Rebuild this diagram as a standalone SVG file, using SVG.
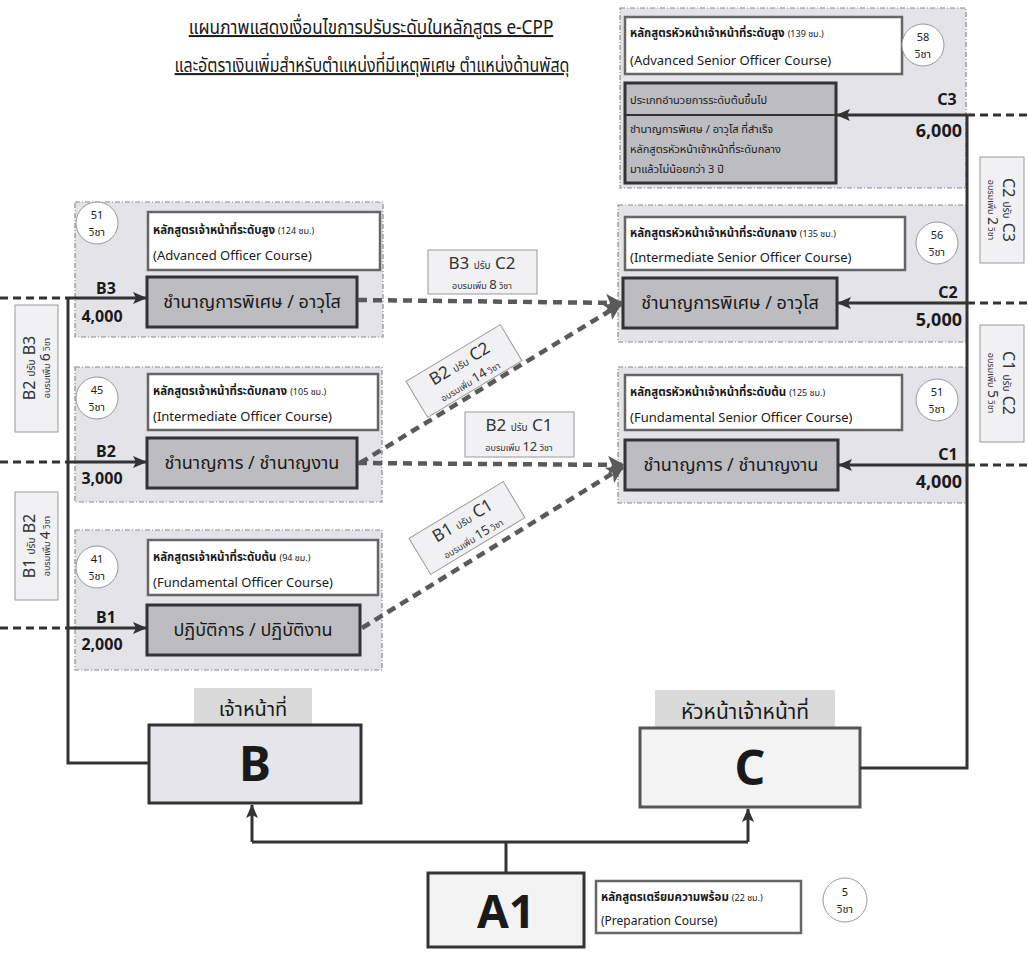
<svg xmlns="http://www.w3.org/2000/svg" width="1028" height="953" viewBox="0 0 1028 953">
<defs>
<style>
text{font-family:"Noto Sans","Noto Sans Thai","DejaVu Sans",sans-serif;fill:#1a1a1a}
.grp{fill:#e3e3e8;stroke:#8c8c8c;stroke-width:1.2;stroke-dasharray:5 2 1 2}
.course{fill:#ffffff;stroke:#666;stroke-width:2.5}
.pos{fill:#bcbcc1;stroke:#333;stroke-width:3}
.circ{fill:#fff;stroke:#9a9a9a;stroke-width:1}
.lbl{fill:#f1f1f3;stroke:#9a9a9a;stroke-width:1}
.ct{font-size:11.5px;font-weight:bold}
.ce{font-size:13px}
.cn{font-size:11px;text-anchor:middle}
.pt{font-size:18px;text-anchor:middle}
.lv{font-size:16px;font-weight:bold;text-anchor:middle}
.big{font-weight:bold;text-anchor:middle}
.solid{fill:none;stroke:#333;stroke-width:3}
.ext{fill:none;stroke:#333;stroke-width:3;stroke-dasharray:8 5}
.dash{fill:none;stroke:#5a5a5a;stroke-width:4.5;stroke-dasharray:9 6}
.sl{text-anchor:middle;fill:#333}
.tab{fill:#dadada}
</style>
<marker id="ah" markerWidth="14" markerHeight="12" refX="13" refY="6" orient="auto" markerUnits="userSpaceOnUse">
<path d="M0,0 L14,6 L0,12 L3,6 Z" fill="#333"/>
</marker>
<marker id="gh" markerWidth="18" markerHeight="18" refX="16" refY="9" orient="auto" markerUnits="userSpaceOnUse">
<path d="M0,0 L17,9 L0,18 L4,9 Z" fill="#5a5a5a"/>
</marker>
</defs>
<rect width="1028" height="953" fill="#fff"/>

<g id="title">
<text transform="translate(371,34) scale(0.86,1)" x="0" y="0" font-size="20" text-anchor="middle" text-decoration="underline">แผนภาพแสดงเงื่อนไขการปรับระดับในหลักสูตร e-CPP</text>
<text transform="translate(372,72) scale(0.8,1)" x="0" y="0" font-size="20" text-anchor="middle" text-decoration="underline">และอัตราเงินเพิ่มสำหรับตำแหน่งที่มีเหตุพิเศษ ตำแหน่งด้านพัสดุ</text>
</g>

<!-- Left column -->
<g id="B3">
<rect class="grp" x="75" y="202" width="308" height="135"/>
<circle class="circ" cx="97" cy="223" r="21"/>
<text class="cn" x="97" y="219">51</text><text class="cn" x="97" y="236">วิชา</text>
<rect class="course" x="148" y="212" width="232" height="58"/>
<text class="ct" x="153" y="234">หลักสูตรเจ้าหน้าที่ระดับสูง <tspan font-size="9" font-weight="normal">(124 ชม.)</tspan></text>
<text class="ce" x="153" y="260">(Advanced Officer Course)</text>
<rect class="pos" x="147" y="277" width="210" height="50"/>
<text class="pt" x="252" y="308">ชำนาญการพิเศษ / อาวุโส</text>
<text class="lv" x="106" y="294">B3</text><text class="lv" x="102" y="322">4,000</text>
</g>

<g id="B2">
<rect class="grp" x="75" y="367" width="307" height="135"/>
<circle class="circ" cx="97" cy="398" r="21"/>
<text class="cn" x="97" y="394">45</text><text class="cn" x="97" y="411">วิชา</text>
<rect class="course" x="148" y="374" width="230" height="56"/>
<text class="ct" x="153" y="395">หลักสูตรเจ้าหน้าที่ระดับกลาง <tspan font-size="9" font-weight="normal">(105 ชม.)</tspan></text>
<text class="ce" x="153" y="421">(Intermediate Officer Course)</text>
<rect class="pos" x="147" y="438" width="210" height="50"/>
<text class="pt" x="252" y="469">ชำนาญการ / ชำนาญงาน</text>
<text class="lv" x="106" y="457">B2</text><text class="lv" x="102" y="484">3,000</text>
</g>

<g id="B1">
<rect class="grp" x="75" y="530" width="307" height="140"/>
<circle class="circ" cx="97" cy="567" r="21"/>
<text class="cn" x="97" y="563">41</text><text class="cn" x="97" y="580">วิชา</text>
<rect class="course" x="148" y="540" width="230" height="55"/>
<text class="ct" x="153" y="561">หลักสูตรเจ้าหน้าที่ระดับต้น <tspan font-size="9" font-weight="normal">(94 ชม.)</tspan></text>
<text class="ce" x="153" y="587">(Fundamental Officer Course)</text>
<rect class="pos" x="147" y="605" width="213" height="50"/>
<text class="pt" x="253" y="636">ปฏิบัติการ / ปฏิบัติงาน</text>
<text class="lv" x="106" y="623">B1</text><text class="lv" x="102" y="650">2,000</text>
</g>

<!-- Right column -->
<g id="C3">
<rect class="grp" x="620" y="8" width="346" height="180"/>
<rect class="course" x="625" y="17" width="277" height="57"/>
<text class="ct" x="630" y="37">หลักสูตรหัวหน้าเจ้าหน้าที่ระดับสูง <tspan font-size="9" font-weight="normal">(139 ชม.)</tspan></text>
<text class="ce" x="630" y="65">(Advanced Senior Officer Course)</text>
<circle class="circ" cx="923" cy="45" r="21"/>
<text class="cn" x="923" y="41">58</text><text class="cn" x="923" y="58">วิชา</text>
<rect class="pos" x="625" y="83" width="211" height="100"/>
<line x1="625" y1="115" x2="836" y2="115" stroke="#333" stroke-width="2"/>
<text x="630" y="104" font-size="11">ประเภทอำนวยการระดับต้นขึ้นไป</text>
<text x="630" y="133" font-size="11">ชำนาญการพิเศษ / อาวุโส ที่สำเร็จ</text>
<text x="630" y="153" font-size="11">หลักสูตรหัวหน้าเจ้าหน้าที่ระดับกลาง</text>
<text x="630" y="173" font-size="11">มาแล้วไม่น้อยกว่า 3 ปี</text>
<text class="lv" x="947" y="105">C3</text>
<text x="962" y="137" font-size="18" font-weight="bold" text-anchor="end">6,000</text>
</g>

<g id="C2">
<rect class="grp" x="618" y="205" width="349" height="137"/>
<rect class="course" x="625" y="217" width="280" height="53"/>
<text class="ct" x="630" y="237">หลักสูตรหัวหน้าเจ้าหน้าที่ระดับกลาง <tspan font-size="9" font-weight="normal">(135 ชม.)</tspan></text>
<text class="ce" x="630" y="262">(Intermediate Senior Officer Course)</text>
<circle class="circ" cx="937" cy="243" r="21"/>
<text class="cn" x="937" y="239">56</text><text class="cn" x="937" y="256">วิชา</text>
<rect class="pos" x="623" y="278" width="214" height="50"/>
<text class="pt" x="730" y="309">ชำนาญการพิเศษ / อาวุโส</text>
<text class="lv" x="948" y="298">C2</text>
<text x="962" y="326" font-size="18" font-weight="bold" text-anchor="end">5,000</text>
</g>

<g id="C1">
<rect class="grp" x="618" y="367" width="349" height="136"/>
<rect class="course" x="625" y="375" width="277" height="55"/>
<text class="ct" x="630" y="396">หลักสูตรหัวหน้าเจ้าหน้าที่ระดับต้น <tspan font-size="9" font-weight="normal">(125 ชม.)</tspan></text>
<text class="ce" x="630" y="422">(Fundamental Senior Officer Course)</text>
<circle class="circ" cx="937" cy="400" r="21"/>
<text class="cn" x="937" y="396">51</text><text class="cn" x="937" y="413">วิชา</text>
<rect class="pos" x="625" y="440" width="213" height="50"/>
<text class="pt" x="731" y="471">ชำนาญการ / ชำนาญงาน</text>
<text class="lv" x="948" y="460">C1</text>
<text x="962" y="488" font-size="18" font-weight="bold" text-anchor="end">4,000</text>
</g>

<!-- Bottom -->
<g id="B">
<rect class="tab" x="194" y="688" width="118" height="36"/>
<text x="253" y="716" font-size="20" text-anchor="middle">เจ้าหน้าที่</text>
<rect x="149" y="725" width="212" height="78" fill="#e6e6ea" stroke="#333" stroke-width="3"/>
<text class="big" x="255" y="781" font-size="48">B</text>
</g>
<g id="C">
<rect class="tab" x="655" y="690" width="180" height="37"/>
<text x="745" y="719" font-size="21" text-anchor="middle">หัวหน้าเจ้าหน้าที่</text>
<rect x="640" y="728" width="220" height="79" fill="#f3f3f3" stroke="#555" stroke-width="3"/>
<text class="big" x="750" y="785" font-size="48">C</text>
</g>
<g id="A1">
<rect x="428" y="873" width="156" height="74" fill="#f3f3f3" stroke="#333" stroke-width="3"/>
<text class="big" x="506" y="928" font-size="46">A1</text>
<rect class="course" x="596" y="881" width="205" height="52" stroke="#444"/>
<text class="ct" x="601" y="901">หลักสูตรเตรียมความพร้อม <tspan font-size="9" font-weight="normal">(22 ชม.)</tspan></text>
<text x="601" y="925" font-size="12">(Preparation Course)</text>
<circle class="circ" cx="845" cy="900" r="22"/>
<text class="cn" x="845" y="896" font-size="10">5</text><text class="cn" x="845" y="913" font-size="10">วิชา</text>
</g>

<!-- Side labels -->
<g id="lbl-B2B3">
<rect class="lbl" x="15" y="305" width="43" height="127"/>
<g transform="translate(36,368) rotate(-90)">
<text class="sl" x="0" y="-1" font-size="16">B2 <tspan font-size="10">ปรับ</tspan> B3</text>
<text class="sl" x="0" y="14" font-size="9">อบรมเพิ่ม <tspan font-size="14">6</tspan> วิชา</text>
</g>
</g>
<g id="lbl-B1B2">
<rect class="lbl" x="15" y="492" width="43" height="108"/>
<g transform="translate(36,546) rotate(-90)">
<text class="sl" x="0" y="-1" font-size="16">B1 <tspan font-size="10">ปรับ</tspan> B2</text>
<text class="sl" x="0" y="14" font-size="9">อบรมเพิ่ม <tspan font-size="14">4</tspan> วิชา</text>
</g>
</g>
<g id="lbl-C2C3">
<rect class="lbl" x="980" y="157" width="44" height="106"/>
<g transform="translate(1002,210) rotate(90)">
<text class="sl" x="0" y="-1" font-size="16">C2 <tspan font-size="10">ปรับ</tspan> C3</text>
<text class="sl" x="0" y="14" font-size="9">อบรมเพิ่ม <tspan font-size="14">2</tspan> วิชา</text>
</g>
</g>
<g id="lbl-C1C2">
<rect class="lbl" x="980" y="325" width="44" height="117"/>
<g transform="translate(1002,383) rotate(90)">
<text class="sl" x="0" y="-1" font-size="16">C1 <tspan font-size="10">ปรับ</tspan> C2</text>
<text class="sl" x="0" y="14" font-size="9">อบรมเพิ่ม <tspan font-size="14">5</tspan> วิชา</text>
</g>
</g>

<!-- Connectors -->
<g id="connectors">
<path class="solid" d="M149,763 H68 V298"/>
<path class="solid" d="M68,298 H146" marker-end="url(#ah)"/>
<path class="solid" d="M68,462 H146" marker-end="url(#ah)"/>
<path class="solid" d="M68,628 H146" marker-end="url(#ah)"/>
<path class="ext" d="M0,298 H68 M0,462 H68 M0,628 H68"/>
<path class="solid" d="M860,768 H967 V115"/>
<path class="solid" d="M967,115 H837" marker-end="url(#ah)"/>
<path class="solid" d="M967,303 H838" marker-end="url(#ah)"/>
<path class="solid" d="M967,465 H839" marker-end="url(#ah)"/>
<path class="ext" d="M967,115 H1028 M967,303 H1028 M967,465 H1028"/>
<path class="solid" d="M506,873 V842"/>
<path class="solid" d="M252,842 H748"/>
<path class="solid" d="M252,842 V805" marker-end="url(#ah)"/>
<path class="solid" d="M748,842 V809" marker-end="url(#ah)"/>
<path class="dash" d="M358,300 L622,303" marker-end="url(#gh)"/>
<path class="dash" d="M358,463 L624,465" marker-end="url(#gh)"/>
<path class="dash" d="M360,463 L621,304" marker-end="url(#gh)"/>
<path class="dash" d="M362,628 L623,467" marker-end="url(#gh)"/>
</g>

<g id="lbl-B3C2">
<rect class="lbl" x="428" y="250" width="109" height="44"/>
<text class="sl" x="482" y="269" font-size="17">B3 <tspan font-size="10">ปรับ</tspan> C2</text>
<text class="sl" x="482" y="289" font-size="9">อบรมเพิ่ม <tspan font-size="13">8</tspan> วิชา</text>
</g>
<g id="lbl-B2C1">
<rect class="lbl" x="465" y="412" width="109" height="45"/>
<text class="sl" x="519" y="431" font-size="17">B2 <tspan font-size="10">ปรับ</tspan> C1</text>
<text class="sl" x="519" y="451" font-size="9">อบรมเพิ่ม <tspan font-size="13">12</tspan> วิชา</text>
</g>
<g id="lbl-B2C2" transform="translate(464,371) rotate(-31)">
<rect class="lbl" x="-55" y="-21" width="110" height="42"/>
<text class="sl" x="0" y="-3" font-size="17">B2 <tspan font-size="10">ปรับ</tspan> C2</text>
<text class="sl" x="0" y="16" font-size="9">อบรมเพิ่ม <tspan font-size="13">14</tspan> วิชา</text>
</g>
<g id="lbl-B1C1" transform="translate(467,528) rotate(-31)">
<rect class="lbl" x="-55" y="-21" width="110" height="42"/>
<text class="sl" x="0" y="-3" font-size="17">B1 <tspan font-size="10">ปรับ</tspan> C1</text>
<text class="sl" x="0" y="16" font-size="9">อบรมเพิ่ม <tspan font-size="13">15</tspan> วิชา</text>
</g>
</svg>
